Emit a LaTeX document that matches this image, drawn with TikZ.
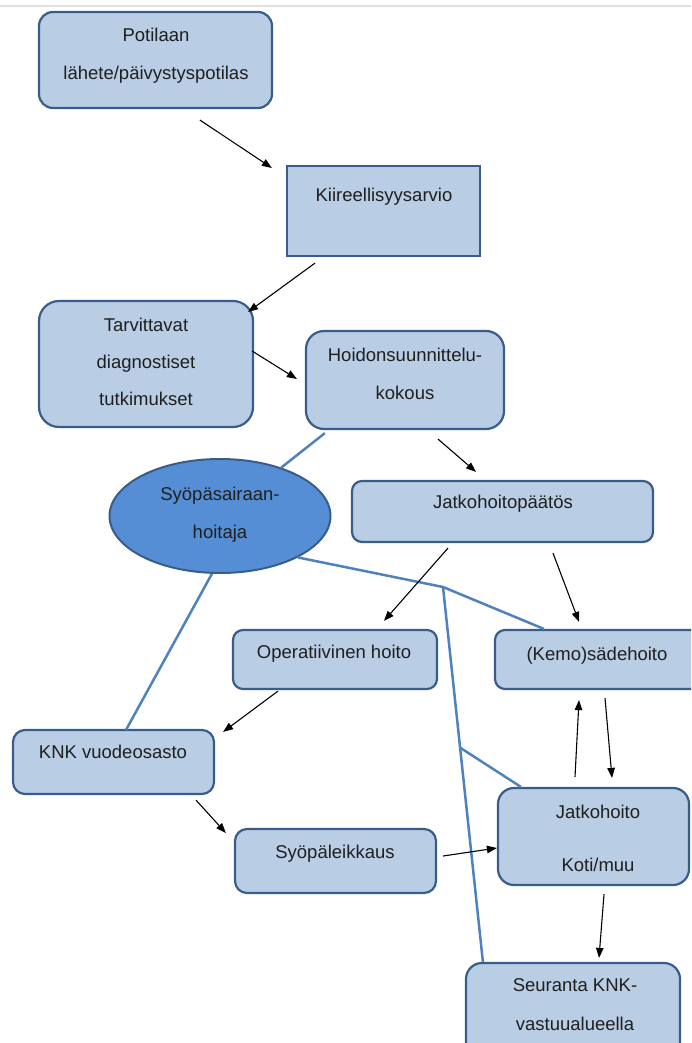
\documentclass[tikz,border=0pt]{standalone}
\usepackage{fontspec}
\setmainfont{Liberation Sans}
\usetikzlibrary{arrows.meta,shapes.geometric}

\definecolor{boxfill}{HTML}{B9CDE5}
\definecolor{boxline}{HTML}{385D8A}
\definecolor{ellfill}{HTML}{558ED5}
\definecolor{linkblue}{HTML}{4F81BD}

\tikzset{
  box/.style={draw=boxline, fill=boxfill, line width=2.2pt, rounded corners=#1, inner sep=0pt},
  box/.default=14pt,
  ellbox/.style={ellipse, draw=boxline, fill=ellfill, line width=2pt, inner sep=0pt},
  txt/.style={anchor=north, align=center, inner sep=0pt, text=black!88, font=\fontsize{18.5}{#1}\selectfont},
  txt/.default=38pt,
  arr/.style={-{Triangle[length=10pt,width=7.5pt]}, line width=1.1pt, black},
  link/.style={draw=linkblue, line width=2.5pt}
}

\begin{document}
\begin{tikzpicture}[x=1pt, y=-1pt]
          \useasboundingbox (0,0) rectangle (691,1043);
          \clip (0,0) rectangle (691,1043);
          \draw[black!12, line width=2pt] (0,6) -- (691,6);

          % boxes
          \node[box, minimum width=233, minimum height=96]  (pot) at (155.5,60)    {};
          \node[box=0pt, minimum width=193, minimum height=90] (kii) at (383.5,211) {};
          \node[box=20pt, minimum width=214, minimum height=126] (tar) at (146,364) {};
          \node[box=18pt, minimum width=198, minimum height=98] (hoi) at (405,380) {};
          \node[ellbox, minimum width=221, minimum height=114] (ell) at (220,516) {};
          \node[box=10pt, minimum width=301, minimum height=61] (jpa) at (502.5,511.5) {};
          \node[box=10pt, minimum width=204, minimum height=59] (ope) at (335,659.5) {};
          \node[box=10pt, minimum width=205, minimum height=59] (kem) at (597.5,659.5) {};
          \node[box=12pt, minimum width=201, minimum height=64] (knk) at (113.5,762) {};
          \node[box=12pt, minimum width=201, minimum height=64] (syo) at (335.5,861) {};
          \node[box=16pt, minimum width=191, minimum height=97] (jat) at (593.5,836.5) {};
          \node[box=16pt, minimum width=214, minimum height=95] (seu) at (573,1010.5) {};

          % texts
          \node[txt] (pot-t) at (156,28)  {Potilaan\\lähete/päivystyspotilas};
          \node[txt] (kii-t) at (384,188) {Kiireellisyysarvio};
          \node[txt=37pt] (tar-t) at (146,318) {Tarvittavat\\diagnostiset\\tutkimukset};
          \node[txt] (hoi-t) at (405,348) {Hoidonsuunnittelu-\\kokous};
          \node[txt] (ell-t) at (220,487) {Syöpäsairaan-\\hoitaja};
          \node[txt] (jpa-t) at (503,495) {Jatkohoitopäätös};
          \node[txt] (ope-t) at (334,645) {Operatiivinen hoito};
          \node[txt] (kem-t) at (597,647) {(Kemo)sädehoito};
          \node[txt] (knk-t) at (113,745) {KNK vuodeosasto};
          \node[txt] (syo-t) at (335,845) {Syöpäleikkaus};
          \node[txt=53pt] (jat-t) at (598,805) {Jatkohoito\\Koti/muu};
          \node[txt=39pt] (seu-t) at (575,978) {Seuranta KNK-\\vastuualueella};

          % blue links
          \coordinate (j1) at (443,587);
          \coordinate (j2) at (460.6,748);
          \draw[link] ([shift={(20,3)}]hoi.south west) -- (ell);
          \draw[link] (ell.262) -- ([shift={(12.5,1)}]knk.north);
          \draw[link] (ell.332) -- (j1) -- ([shift={(50,0)}]kem.north west);
          \draw[link] (j1) -- ([shift={(18,0)}]seu.north west);
          \draw[link] (j2) -- ([shift={(24,0)}]jat.north west);

          % arrows
          \draw[arr] ([shift={(44.5,11)}]pot.south) -- ([shift={(-14,-43)}]kii.west);
          \draw[arr] ([shift={(-68.5,6)}]kii.south) -- ([shift={(-6,12)}]tar.north east);
          \draw[arr] ([shift={(-2,-13)}]tar.east) -- ([shift={(-8,-1)}]hoi.west);
          \draw[arr] ([shift={(33,9)}]hoi.south) -- ([shift={(-26.5,-8)}]jpa.north);
          \draw[arr] ([shift={(-54.5,5)}]jpa.south) -- ([shift={(49,-8)}]ope.north);
          \draw[arr] ([shift={(50.5,10)}]jpa.south) -- ([shift={(-18.5,-7)}]kem.north);
          \draw[arr] ([shift={(-57,1)}]ope.south) -- ([shift={(8,3)}]knk.north east);
          \draw[arr] ([shift={(82.5,5)}]knk.south) -- ([shift={(-8,-28)}]syo.west);
          \draw[arr] ([shift={(6,-5)}]syo.east) -- ([shift={(0,11.5)}]jat.west);
          \draw[arr] ([shift={(-18.5,-10)}]jat.north) -- ([shift={(-18.5,10)}]kem.south);
          \draw[arr] ([shift={(7.5,8)}]kem.south) -- ([shift={(18.5,-9)}]jat.north);
          \draw[arr] ([shift={(10.5,8)}]jat.south) -- ([shift={(26,-4)}]seu.north);
        \end{tikzpicture}
\end{document}
